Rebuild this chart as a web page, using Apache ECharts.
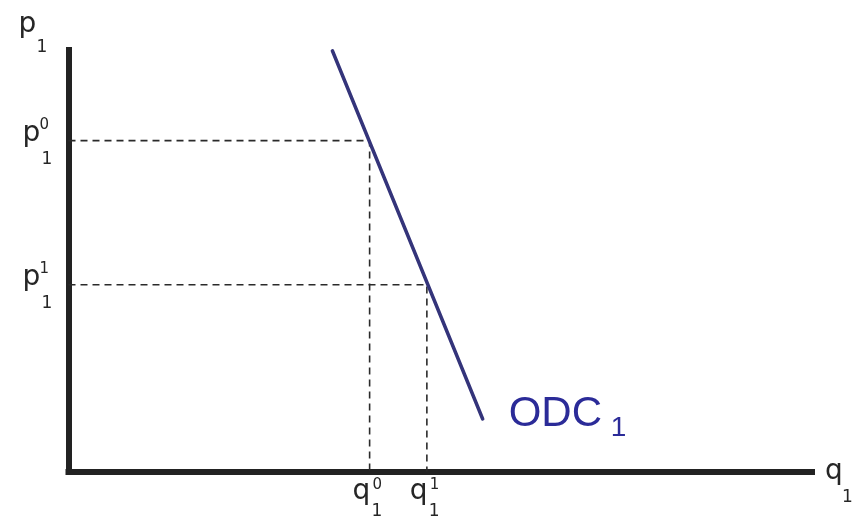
<!DOCTYPE html>
<html>
<head>
<meta charset="utf-8">
<script src="https://cdn.jsdelivr.net/npm/echarts@6/dist/echarts.min.js"></script>
<style>
  html, body { margin: 0; padding: 0; background: #ffffff; }
  #chart { width: 852px; height: 529px; }
</style>
</head>
<body>
<div id="chart"></div>
<script>
// Ordinary demand curve: two end points (quantity, price)
const demandQ = [35.5, 55.7];
const demandP = [99.8, 12.5];

// Price levels p1^0, p1^1 and the quantities q1^0, q1^1 demanded at them
const priceLevels = [78.5, 44.3];
const quantityLevels = [40.5, 48.2];
const levelIndex = ['0', '1'];

// Axis names and curve label
const yName = 'p';
const xName = 'q';
const goodIndex = '1';
const curveName = 'ODC';

const axisMin = 0;
const axisMax = 100;

const AXIS_FONT = '"DejaVu Sans", sans-serif';
const CURVE_FONT = '"Liberation Sans", Arial, sans-serif';
const INK = '#262626';

// place a text so that its baseline sits on baselineY
function txt(str, x, baselineY, size, family, color) {
  return {
    type: 'text',
    x: x,
    y: baselineY - 0.346 * size,
    style: {
      text: str,
      font: size + 'px ' + family,
      fill: color,
      align: 'left',
      verticalAlign: 'middle'
    }
  };
}

// label items: [x, y, kind, superscript]
const labelData = [];
priceLevels.forEach((p, i) => labelData.push([axisMin, p, 'ytick', levelIndex[i]]));
quantityLevels.forEach((q, i) => labelData.push([q, axisMin, 'xtick', levelIndex[i]]));
labelData.push([axisMin, axisMax, 'yname', '']);
labelData.push([axisMax, axisMin, 'xname', '']);
labelData.push([demandQ[1], demandP[1], 'curve', '']);

function renderLabel(params, api) {
  const pt = api.coord([api.value(0), api.value(1)]);
  const kind = labelData[params.dataIndex][2];
  const sup = labelData[params.dataIndex][3];
  const x = pt[0], y = pt[1];
  let children = [];
  if (kind === 'ytick') {
    children = [
      txt(yName, x - 46, y + 3, 28, AXIS_FONT, INK),
      txt(sup, x - 29, y - 10, 15, AXIS_FONT, INK),
      txt(goodIndex, x - 27, y + 25, 17, AXIS_FONT, INK)
    ];
  } else if (kind === 'xtick') {
    children = [
      txt(xName, x - 17, y + 30, 28, AXIS_FONT, INK),
      txt(sup, x + 3, y + 19, 15, AXIS_FONT, INK),
      txt(goodIndex, x + 2, y + 46, 17, AXIS_FONT, INK)
    ];
  } else if (kind === 'yname') {
    children = [
      txt(yName, x - 50, y - 16, 28, AXIS_FONT, INK),
      txt(goodIndex, x - 32, y + 3, 17, AXIS_FONT, INK)
    ];
  } else if (kind === 'xname') {
    children = [
      txt(xName, x + 13, y + 10, 28, AXIS_FONT, INK),
      txt(goodIndex, x + 30, y + 32, 17, AXIS_FONT, INK)
    ];
  } else if (kind === 'curve') {
    children = [
      txt(curveName, x + 26, y + 10, 42, CURVE_FONT, '#2b2b98'),
      txt(goodIndex, x + 128, y + 19, 28, CURVE_FONT, '#2b2b98')
    ];
  }
  return { type: 'group', children: children };
}

// dashed guide from the price axis to the curve and down to the quantity axis
const guideSeries = priceLevels.map((p, i) => ({
  type: 'line',
  data: [[axisMin, p], [quantityLevels[i], p], [quantityLevels[i], axisMin]],
  symbol: 'none',
  silent: true,
  z: 2,
  lineStyle: { color: '#2a2a2a', width: 1.6, type: [7, 5] }
}));

const chart = echarts.init(document.getElementById('chart'), null, { renderer: 'canvas' });
chart.setOption({
  animation: false,
  backgroundColor: '#ffffff',
  grid: { left: 68.5, right: 40, top: 50, bottom: 57.5 },
  xAxis: {
    type: 'value', min: axisMin, max: axisMax,
    axisLine: { show: true, lineStyle: { color: '#222222', width: 6, cap: 'square' } },
    axisTick: { show: false }, axisLabel: { show: false }, splitLine: { show: false }
  },
  yAxis: {
    type: 'value', min: axisMin, max: axisMax,
    axisLine: { show: true, lineStyle: { color: '#222222', width: 6, cap: 'square' } },
    axisTick: { show: false }, axisLabel: { show: false }, splitLine: { show: false }
  },
  series: [
    ...guideSeries,
    {
      type: 'line',
      name: curveName,
      data: demandQ.map((q, i) => [q, demandP[i]]),
      symbol: 'none',
      z: 3,
      lineStyle: { color: '#34347a', width: 3.6, cap: 'round' }
    },
    {
      type: 'custom',
      renderItem: renderLabel,
      data: labelData.map(d => [d[0], d[1]]),
      silent: true,
      clip: false,
      z: 4
    }
  ]
});
</script>
</body>
</html>
